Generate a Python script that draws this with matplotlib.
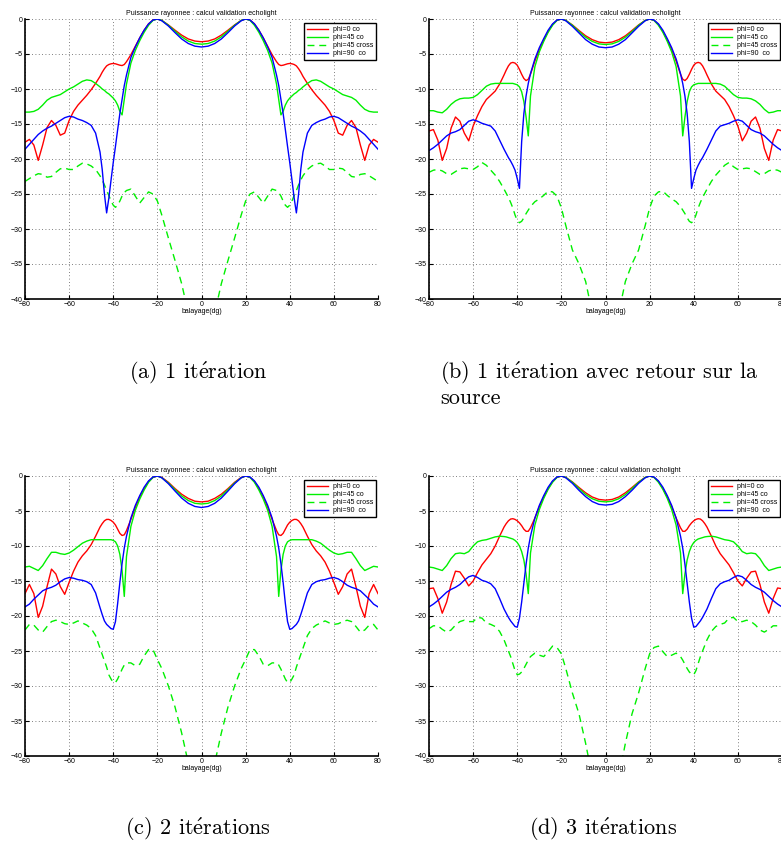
import numpy as np
import matplotlib.pyplot as plt

# demi-diagramme (0..80 deg), symetrique autour de 0
x_half = [0, 3, 6, 9, 12, 15, 18, 20, 22, 24, 26, 28, 30, 32, 34, 35, 36, 37, 38, 39,
          40, 41, 42, 43, 44, 45, 46, 48, 50, 52, 54, 56, 58, 60, 62, 64, 66, 68, 70,
          72, 74, 76, 78, 80]

# (a) 1 iteration
a_phi0 = [-3.25, -3.15, -2.85, -2.3, -1.6, -0.85, -0.2, 0, -0.15, -0.7, -1.6, -2.7, -3.9, -5.1,
          -6.1, -6.5, -6.65, -6.6, -6.5, -6.4, -6.35, -6.4, -6.5, -6.7, -7.1, -7.6, -8.2, -9.2,
          -10.1, -10.9, -11.6, -12.3, -13.2, -14.5, -16.3, -16.6, -15.2, -14.5, -15.5, -18.0,
          -20.2, -18.0, -17.2, -17.6]
a_phi45 = [-3.6, -3.5, -3.15, -2.55, -1.75, -0.9, -0.2, 0, -0.2, -0.9, -1.9, -3.1, -4.5, -6.3,
           -9.3, -11.5, -13.7, -13.2, -12.3, -11.7, -11.3, -11.0, -10.7, -10.5, -10.2, -10.0,
           -9.7, -9.2, -8.8, -8.7, -8.9, -9.3, -9.7, -10.0, -10.4, -10.8, -11.0, -11.2, -11.6,
           -12.3, -12.9, -13.2, -13.3, -13.3]
a_cross = [-48, -46, -42, -37.8, -34.5, -31.3, -28, -26, -25, -24.7, -25.5, -26.3, -25.3, -24.3,
           -24.5, -24.8, -25.3, -26, -26.6, -26.9, -26.6, -26, -25.2, -24.5, -23.7, -23, -22.4,
           -21.5, -21, -20.7, -20.6, -21, -21.5, -21.5, -21.3, -21.4, -21.9, -22.5, -22.6,
           -22.2, -22.1, -22.4, -22.8, -23.2]
a_phi90 = [-4.0, -3.88, -3.5, -2.85, -1.95, -1.0, -0.25, 0, -0.15, -0.7, -1.6, -2.7, -4.0, -5.5,
           -8.0, -9.5, -11.5, -13.5, -15.8, -18.2, -20.5, -23.0, -25.6, -27.7, -25.0, -21.5,
           -19.0, -16.3, -15.2, -14.8, -14.5, -14.3, -14.0, -13.9, -14.1, -14.5, -14.9, -15.3,
           -15.6, -16.0, -16.5, -17.2, -17.9, -18.6]

# (b) 1 iteration avec retour sur la source
b_phi0 = [-3.4, -3.3, -2.95, -2.4, -1.65, -0.85, -0.2, 0, -0.2, -0.8, -1.8, -3.0, -4.4, -6.0,
          -7.9, -8.6, -8.8, -8.5, -7.9, -7.2, -6.6, -6.3, -6.2, -6.3, -6.7, -7.3, -8.0, -9.3,
          -10.3, -10.9, -11.5, -12.5, -13.8, -15.3, -17.4, -16.3, -14.6, -14.0, -15.6, -18.5,
          -20.2, -17.3, -15.8, -16.0]
b_phi45 = [-3.65, -3.55, -3.2, -2.6, -1.8, -0.9, -0.2, 0, -0.2, -0.9, -1.9, -3.2, -4.7, -6.8,
           -11.0, -16.7, -14.0, -11.8, -10.4, -9.7, -9.4, -9.3, -9.2, -9.2, -9.2, -9.2, -9.2,
           -9.2, -9.2, -9.3, -9.6, -10.2, -10.8, -11.2, -11.3, -11.3, -11.4, -11.7, -12.2,
           -12.9, -13.4, -13.3, -13.1, -13.1]
b_cross = [-48, -46, -42, -37.5, -35, -33, -29.5, -27, -25.3, -24.7, -24.6, -25.2, -25.7, -26.1,
           -26.8, -27.3, -27.8, -28.4, -28.9, -29.1, -28.8, -28.0, -27.0, -26.2, -25.5, -24.9,
           -24.3, -23.2, -22.3, -21.6, -20.9, -20.5, -21.1, -21.5, -21.4, -21.3, -21.4, -21.8,
           -22.2, -22.1, -21.7, -21.5, -21.6, -21.9]
b_phi90 = [-4.1, -4.0, -3.6, -2.95, -2.0, -1.05, -0.25, 0, -0.15, -0.7, -1.6, -2.8, -4.1, -5.7,
           -7.8, -9.2, -11.0, -13.5, -17.5, -24.2, -22.8, -21.6, -20.9, -20.3, -19.8, -19.2,
           -18.6, -17.3, -16.0, -15.3, -15.1, -14.9, -14.6, -14.4, -14.6, -15.2, -15.8, -16.1,
           -16.3, -16.7, -17.3, -17.9, -18.4, -18.8]

# (c) 2 iterations
c_phi0 = [-3.7, -3.6, -3.2, -2.6, -1.8, -0.9, -0.2, 0, -0.2, -0.8, -1.8, -3.0, -4.5, -6.2,
          -7.8, -8.4, -8.5, -8.2, -7.6, -7.0, -6.6, -6.35, -6.2, -6.2, -6.4, -6.8, -7.3, -8.6,
          -9.8, -10.7, -11.4, -12.3, -13.6, -15.2, -16.9, -15.8, -14.0, -13.3, -15.8, -18.6,
          -20.2, -16.8, -15.5, -16.8]
c_phi45 = [-4.0, -3.9, -3.5, -2.85, -1.95, -1.0, -0.25, 0, -0.2, -0.9, -2.0, -3.3, -4.9, -7.2,
           -11.5, -17.2, -13.5, -11.2, -10.0, -9.4, -9.2, -9.1, -9.1, -9.1, -9.1, -9.1, -9.1,
           -9.1, -9.1, -9.3, -9.6, -10.1, -10.6, -11.0, -11.2, -11.1, -10.9, -10.9, -11.8,
           -12.8, -13.5, -13.2, -12.9, -13.0]
c_cross = [-48, -46, -41, -36.7, -33, -30, -27.5, -26.2, -24.8, -24.8, -25.7, -26.9, -27.1,
           -26.7, -26.7, -27.0, -27.6, -28.3, -29.0, -29.5, -29.5, -29.0, -28.4, -27.3, -26.4,
           -25.5, -24.6, -22.8, -21.8, -21.3, -21.0, -20.7, -21.0, -21.2, -21.1, -20.8, -20.6,
           -20.8, -21.5, -22.3, -22.0, -21.3, -21.2, -22.0]
c_phi90 = [-4.5, -4.35, -3.9, -3.15, -2.15, -1.1, -0.25, 0, -0.15, -0.7, -1.6, -2.8, -4.2, -6.0,
           -8.6, -10.3, -12.5, -15.2, -18.2, -20.8, -21.9, -21.8, -21.5, -21.2, -20.7, -19.8,
           -18.8, -16.7, -15.5, -15.1, -14.9, -14.8, -14.6, -14.5, -14.7, -15.1, -15.6, -15.9,
           -16.1, -16.4, -17.0, -17.6, -18.3, -18.7]

# (d) 3 iterations
d_phi0 = [-3.45, -3.35, -3.0, -2.4, -1.65, -0.85, -0.2, 0, -0.2, -0.8, -1.8, -3.0, -4.4, -6.0,
          -7.4, -7.9, -7.9, -7.6, -7.1, -6.7, -6.4, -6.2, -6.1, -6.15, -6.4, -6.8, -7.3, -8.6,
          -10.0, -11.1, -11.9, -12.7, -13.8, -15.0, -15.7, -14.6, -13.7, -13.6, -15.5, -18.0,
          -19.6, -17.5, -16.0, -16.1]
d_phi45 = [-3.7, -3.6, -3.25, -2.65, -1.8, -0.9, -0.2, 0, -0.2, -0.9, -1.9, -3.2, -4.8, -7.0,
           -11.0, -16.8, -14.0, -12.0, -10.8, -10.0, -9.5, -9.2, -9.0, -8.9, -8.8, -8.7, -8.65,
           -8.6, -8.7, -8.9, -9.1, -9.2, -9.4, -10.0, -10.8, -11.1, -11.0, -11.1, -11.8, -12.8,
           -13.5, -13.3, -13.1, -13.0]
d_cross = [-48, -46, -43, -38.2, -34, -31, -27.5, -25.4, -24.5, -24.3, -25.1, -25.8, -25.6,
           -25.3, -25.8, -26.3, -26.9, -27.5, -28.0, -28.3, -28.4, -27.8, -26.8, -25.8, -25.0,
           -24.2, -23.4, -22.2, -21.5, -21.2, -21.0, -20.3, -20.2, -20.8, -20.8, -20.6, -20.8,
           -21.3, -22.0, -22.3, -21.9, -21.4, -21.4, -21.8]
d_phi90 = [-4.15, -4.05, -3.65, -2.95, -2.05, -1.05, -0.25, 0, -0.15, -0.7, -1.6, -2.8, -4.2,
           -6.0, -8.6, -10.3, -12.6, -15.3, -18.0, -20.3, -21.6, -21.5, -21.1, -20.7, -20.2,
           -19.6, -19.0, -17.5, -16.1, -15.4, -15.1, -14.9, -14.5, -14.2, -14.4, -14.9, -15.5,
           -15.9, -16.2, -16.6, -17.2, -17.8, -18.3, -18.7]

legend_labels = ["phi=0 co", "phi=45 co", "phi=45 cross", "phi=90  co"]
title = "Puissance rayonnee : calcul validation echolight"
xlabel = "balayage(dg)"


def mirror(v):
    v = np.asarray(v, dtype=float)
    return np.concatenate([v[:0:-1], v])


x_full = np.concatenate([-np.asarray(x_half[:0:-1]), x_half])

W, H = 781, 844
fig = plt.figure(figsize=(W / 100, H / 100), dpi=100)
plt.rcParams["font.family"] = ["Liberation Sans", "DejaVu Sans"]
plt.rcParams["mathtext.fontset"] = "cm"


def panel(left_px, top_px, curves):
    w_px, h_px = 353, 280
    ax = fig.add_axes([left_px / W, 1 - (top_px + h_px) / H, w_px / W, h_px / H])
    p0, p45, cr, p90 = curves
    ax.plot(x_full, mirror(p0), color="#ff0000", lw=1.0)
    ax.plot(x_full, mirror(p45), color="#00f000", lw=1.0)
    ax.plot(x_full, mirror(cr), color="#00f000", lw=1.0, ls=(0, (5, 3.5)))
    ax.plot(x_full, mirror(p90), color="#0000ff", lw=1.0)
    ax.set_xlim(-80, 80)
    ax.set_ylim(-40, 0)
    ax.set_xticks(range(-80, 81, 20))
    ax.set_yticks(range(-40, 1, 5))
    ax.grid(True, ls=(0, (1, 3)), color="#555555", lw=0.6)
    ax.tick_params(direction="in", length=3, width=0.8, labelsize=5, pad=1.5)
    for s in ("top", "right"):
        ax.spines[s].set_visible(False)
    for s in ("left", "bottom"):
        ax.spines[s].set_linewidth(1.2)
    ax.set_title(title, fontsize=5, pad=3)
    ax.set_xlabel(xlabel, fontsize=5, labelpad=0)
    leg = ax.legend(legend_labels, loc="upper right", fontsize=5, fancybox=False,
                    framealpha=1, edgecolor="black", borderpad=0.4, handlelength=3,
                    labelspacing=0.15, bbox_to_anchor=(0.995, 0.985), borderaxespad=0)
    leg.get_frame().set_linewidth(1.0)
    return ax


panel(25, 19, (a_phi0, a_phi45, a_cross, a_phi90))
panel(429, 19, (b_phi0, b_phi45, b_cross, b_phi90))
panel(25, 476, (c_phi0, c_phi45, c_cross, c_phi90))
panel(429, 476, (d_phi0, d_phi45, d_cross, d_phi90))

e_acute = r"$\acute{\mathrm{e}}$"
cap = dict(fontsize=16, family="cmr10", va="center")
fig.text(198 / W, 1 - 373 / H, "(a) 1 it" + e_acute + "ration", ha="center", **cap)
fig.text(440 / W, 1 - 373 / H, "(b) 1 it" + e_acute + "ration avec retour sur la", ha="left", **cap)
fig.text(440 / W, 1 - 398 / H, "source", ha="left", **cap)
fig.text(198 / W, 1 - 829 / H, "(c) 2 it" + e_acute + "rations", ha="center", **cap)
fig.text(603 / W, 1 - 829 / H, "(d) 3 it" + e_acute + "rations", ha="center", **cap)

fig.savefig("out.png", dpi=100)
